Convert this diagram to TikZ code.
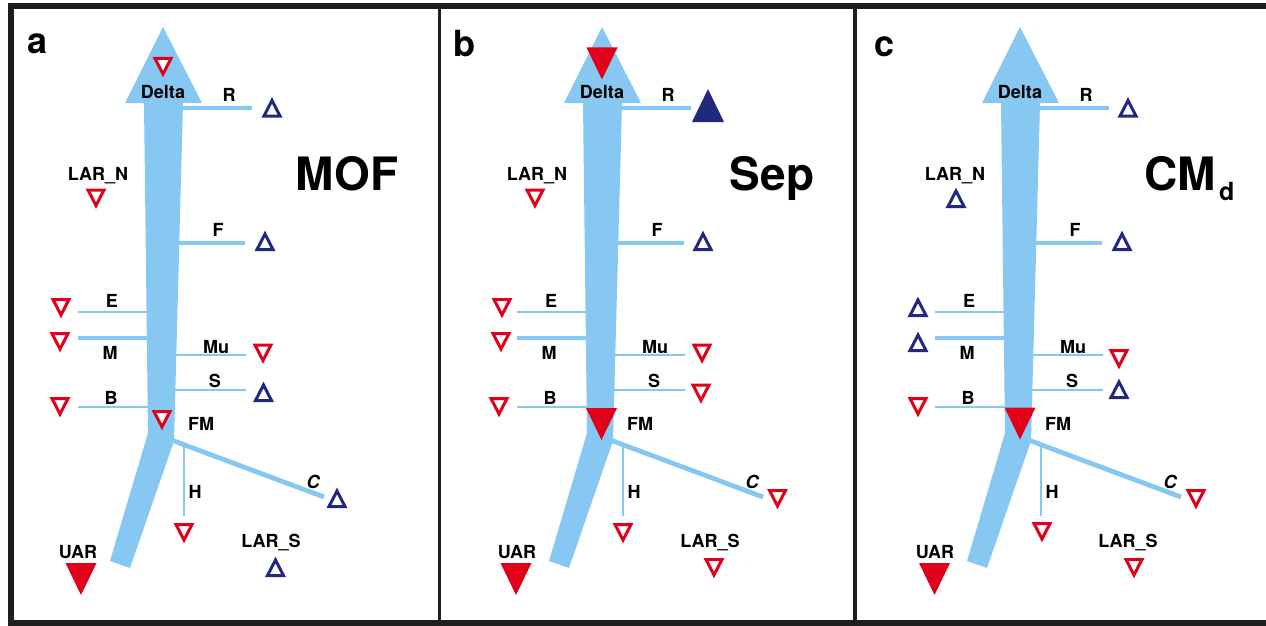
\documentclass[tikz,border=0pt]{standalone}
\usepackage{fontspec}
\setmainfont{TeX Gyre Heros}
\definecolor{flow}{HTML}{86C8F2}
\definecolor{tred}{HTML}{E1001A}
\definecolor{tnavy}{HTML}{23287F}
\definecolor{framegray}{HTML}{1E1E1E}
\tikzset{
  lab/.style={font=\fontsize{18}{20}\selectfont\bfseries, inner sep=0pt, anchor=base, text=black},
  biglab/.style={font=\fontsize{46}{50}\selectfont\bfseries, inner sep=0pt, anchor=base, text=black},
  panlab/.style={font=\fontsize{36}{40}\selectfont\bfseries, inner sep=0pt, anchor=base, text=black},
  thinbr/.style={flow, line width=2pt},
  medbr/.style={flow, line width=3.5pt},
  thickbr/.style={flow, line width=4.8pt},
  opentri/.style={line width=3pt, line join=miter, fill=white},
  tdo/.pic={\draw[opentri, draw=tred] (-8,-8.5) -- (8,-8.5) -- (0,7) -- cycle;},
  tuo/.pic={\draw[opentri, draw=tnavy] (-8,8.5) -- (8,8.5) -- (0,-7) -- cycle;},
  tdf/.pic={\fill[tred] (-15.5,-16) -- (15.5,-16) -- (0,16) -- cycle;},
  tuf/.pic={\fill[tnavy] (-16,16.5) -- (16,16.5) -- (0,-16.5) -- cycle;},
}
\newcommand{\flowpanel}{%
  % branch end points
  \coordinate (Rs) at (163,108);  \coordinate (Re) at (252,108);
  \coordinate (Fs) at (163,243);  \coordinate (Fe) at (245,243);
  \coordinate (Es) at (160,312);  \coordinate (Ee) at (78,312);
  \coordinate (Ms) at (160,338);  \coordinate (Me) at (78,338);
  \coordinate (Mus) at (160,355); \coordinate (Mue) at (246,355);
  \coordinate (Ss) at (160,390);  \coordinate (Se) at (246,390);
  \coordinate (Bs) at (160,407);  \coordinate (Be) at (78,407);
  \coordinate (Cs) at (165,437.6);\coordinate (Ce) at (324,497);
  \coordinate (Hs) at (184,444);  \coordinate (He) at (184,516);
  \draw[medbr] (Rs) -- (Re);
  \draw[thickbr] (Fs) -- (Fe);
  \draw[thinbr] (Es) -- (Ee);
  \draw[medbr] (Ms) -- (Me);
  \draw[thinbr] (Mus) -- (Mue);
  \draw[thinbr] (Ss) -- (Se);
  \draw[thinbr] (Bs) -- (Be);
  \draw[thickbr] (Cs) -- (Ce);
  \draw[thinbr] (Hs) -- (He);
  % main flow arrow
  \fill[flow] (125,103) -- (163,27) -- (202,103) -- (183,103) -- (174,441)
     -- (130,568) -- (110,561) -- (148,433) -- (144,103) -- cycle;
  % labels
  \node[lab] (delta) at (163,98) {Delta};
  \node[lab] (r) at (229,101) {R};
  \node[lab] (larn) at (98,180) {LAR\_N};
  \node[lab] (f) at (218,236) {F};
  \node[lab] (e) at (112,307) {E};
  \node[lab] (m) at (110,359) {M};
  \node[lab] (mu) at (216,353) {Mu};
  \node[lab] (s) at (215,387) {S};
  \node[lab] (b) at (111,404) {B};
  \node[lab] (fm) at (201,430) {FM};
  \node[lab] (h) at (195,498) {H};
  \node[lab] (c) at (313,488) {\itshape C};
  \node[lab] (uar) at (78,558) {UAR};
  \node[lab] (lars) at (271,547) {LAR\_S};
}
\begin{document}
\begin{tikzpicture}[x=1pt,y=-1pt]
\useasboundingbox (0,0) rectangle (1266,626);
\fill[white] (0,0) rectangle (1266,626);
% ---------- panel a
\begin{scope}[name prefix=a-]
  \flowpanel
  \pic (tDelta) at (163,67) {tdo};
  \pic (tR) at (272,107.5) {tuo};
  \pic (tLARN) at (96,198.5) {tdo};
  \pic (tF) at (265,241) {tuo};
  \pic (tE) at (61,308) {tdo};
  \pic (tM) at (60,342) {tdo};
  \pic (tMu) at (263,353.5) {tdo};
  \pic (tS) at (263.5,392) {tuo};
  \pic (tB) at (60,407) {tdo};
  \pic (tFM) at (162,420) {tdo};
  \pic (tC) at (337,498) {tuo};
  \pic (tH) at (184,533) {tdo};
  \pic (tUAR) at (81,579) {tdf};
  \pic (tLARS) at (275.5,567) {tuo};
  \node[panlab] (letter) at (38,54) {a};
  \node[biglab] (title) at (347,190) {MOF};
\end{scope}
% ---------- panel b
\begin{scope}[name prefix=b-, shift={(439,0)}]
  \flowpanel
  \pic (tDelta) at (163,63.5) {tdf};
  \pic (tR) at (269,105.5) {tuf};
  \pic (tLARN) at (96,198.5) {tdo};
  \pic (tF) at (264,241) {tuo};
  \pic (tE) at (63,308) {tdo};
  \pic (tM) at (62,342) {tdo};
  \pic (tMu) at (263,353.5) {tdo};
  \pic (tS) at (262,393.5) {tdo};
  \pic (tB) at (60,407) {tdo};
  \pic (tFM) at (162.5,424) {tdf};
  \pic (tC) at (338.5,499) {tdo};
  \pic (tH) at (184,533) {tdo};
  \pic (tUAR) at (77,579) {tdf};
  \pic (tLARS) at (275,568) {tdo};
  \node[panlab] (letter) at (25,57) {b};
  \node[biglab] (title) at (333,190) {Sep};
\end{scope}
% ---------- panel c
\begin{scope}[name prefix=c-, shift={(857,0)}]
  \flowpanel
  \pic (tR) at (271,107.5) {tuo};
  \pic (tLARN) at (99,198) {tuo};
  \pic (tF) at (265,241) {tuo};
  \pic (tE) at (61,307) {tuo};
  \pic (tM) at (61,342) {tuo};
  \pic (tMu) at (262,359) {tdo};
  \pic (tS) at (262,389) {tuo};
  \pic (tB) at (61,407) {tdo};
  \pic (tFM) at (163,423.5) {tdf};
  \pic (tC) at (339,499) {tdo};
  \pic (tH) at (185,532) {tdo};
  \pic (tUAR) at (77.5,579) {tdf};
  \pic (tLARS) at (277,568) {tdo};
  \node[panlab] (letter) at (27.5,57) {c};
  \node[biglab] (title) at (323,190) {CM};
  \node[font=\fontsize{25}{25}\selectfont\bfseries, inner sep=0pt, anchor=base west] (sub) at (362,200) {d};
\end{scope}
% ---------- frame
\draw[framegray, line width=6pt] (1275,6) -- (11,6) -- (11,623) -- (1275,623);
\draw[framegray, line width=3pt] (439,6) -- (439,623);
\draw[framegray, line width=3.5pt] (855,6) -- (855,623);
\end{tikzpicture}
\end{document}
